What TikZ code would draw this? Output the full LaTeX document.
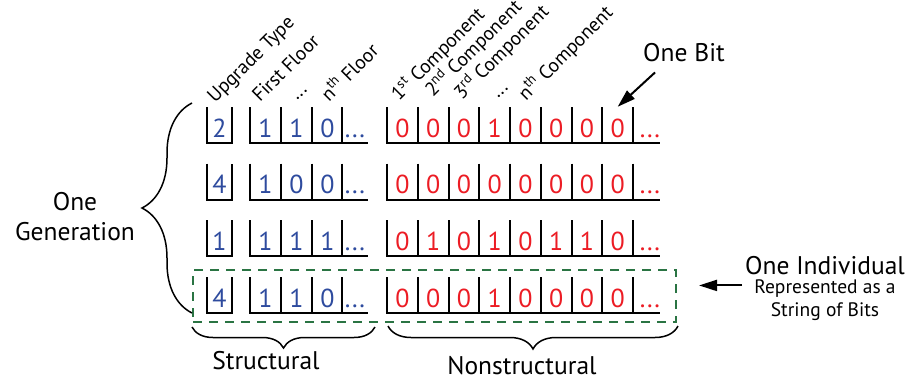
\documentclass[tikz,border=0pt]{standalone}
\usepackage{fontspec}
\setmainfont{PT Sans}
\usetikzlibrary{arrows.meta, positioning, fit, calc, decorations.pathreplacing}
\definecolor{cb}{HTML}{2E4B9E}
\definecolor{cr}{HTML}{EC1C24}
\definecolor{cg}{HTML}{2A7443}

\begin{document}
\begin{tikzpicture}[
  x=1pt, y=-1pt,
  txt/.style={font=\fontsize{25.5}{30}\selectfont, inner sep=2pt},
  sm/.style={font=\fontsize{19.5}{23}\selectfont, inner sep=2pt, align=center},
  lbl/.style={font=\fontsize{19.5}{24}\selectfont, rotate=45, anchor=base west, inner sep=0pt},
  bar/.style={draw=black, line width=2pt},
  sdig/.style={font=\fontsize{26}{30}\selectfont, text=cb, inner sep=0pt,
               anchor=base, text height=30pt},
  ndig/.style={sdig, text=cr},
  brc/.style={draw=black, line width=1.5pt, decorate,
              decoration={brace, aspect=0.5, amplitude=#1}},
  indbox/.style={draw=cg, line width=2pt, dash pattern=on 9pt off 7pt, inner sep=0pt},
  arr/.style={-{Triangle[length=18pt,width=11pt]}, draw=black, line width=2pt},
]
\useasboundingbox (0,0) rectangle (909,381);

% cells and bits of each individual
\foreach \r/\tp/\fl/\bits in {1/2/{1,1,0}/{0,0,0,1,0,0,0,0},
                              2/4/{1,0,0}/{0,0,0,0,0,0,0,0},
                              3/1/{1,1,1}/{0,1,0,1,0,1,1,0},
                              4/4/{1,1,0}/{0,0,0,1,0,0,0,0}}{
  \pgfmathsetmacro\yb{143+(\r-1)*56.67}
  \draw[bar] (207,\yb-36) |- (232,\yb) -- (232,\yb-36);
  \draw[bar] (250,\yb-36) |- (368,\yb);
  \foreach \x in {281,312,342} \draw[bar] (\x,\yb-36) -- (\x,\yb);
  \draw[bar] (387,\yb-36) |- (660,\yb);
  \foreach \k in {1,...,8} \draw[bar] ({387+30.75*\k},\yb-36) -- ++(0,36);
  \node[sdig] (t\r) at (219.5,\yb-6) {\tp};
  \foreach \d [count=\i] in \fl
    \node[sdig] (f\r-\i) at ({250+31*(\i-0.5)},\yb-6) {\d};
  \node[sdig] (f\r-d) at (355,\yb-6) {...};
  \foreach \d [count=\i] in \bits
    \node[ndig] (b\r-\i) at ({387+30.75*(\i-0.5)},\yb-6) {\d};
  \node[ndig] (b\r-d) at (650,\yb-6) {...};
}

% column labels
\node[lbl] (upg)  at (215,104) {Upgrade Type};
\node[lbl] (flr1) at (260,103) {First Floor};
\node[lbl] (flrd) at (297,101) {...};
\node[lbl] (flrn) at (329,103) {n\textsuperscript{th} Floor};
\node[lbl] (cmp1) at (399,102) {1\textsuperscript{st} Component};
\node[lbl] (cmp2) at (433,98)  {2\textsuperscript{nd} Component};
\node[lbl] (cmp3) at (462,101) {3\textsuperscript{rd} Component};
\node[lbl] (cmpd) at (498,99)  {...};
\node[lbl] (cmpn) at (526,102) {n\textsuperscript{th} Component};

% one individual
\node[indbox, fit={(193,270) (676,322)}] (indiv) {};

% braces
\draw[brc=50pt] (192,313) -- (192,103);
\node[txt, align=center] (gen) at (75,217) {One\\Generation};
\draw[brc=21pt] (375,327) -- (192,327);
\node[txt] (str) at (266,361) {Structural};
\draw[brc=23pt] (678,326) -- (388,326);
\node[txt] (nstr) at (522,366) {Nonstructural};

% callouts
\node[txt] (onebit) at (684,53) {One Bit};
\draw[arr] ($(onebit.south west)+(14,8)$) -- (b1-8.north);
\node[txt] (indlbl) at (825,266) {One Individual};
\node[sm, below=0pt of indlbl] (indsub) {Represented as a\\String of Bits};
\coordinate (indarr) at ($(indsub.north west)+(-10,8)$);
\draw[arr, shorten >=22pt] (indarr) -- (indarr -| indiv.east);
\end{tikzpicture}
\end{document}
